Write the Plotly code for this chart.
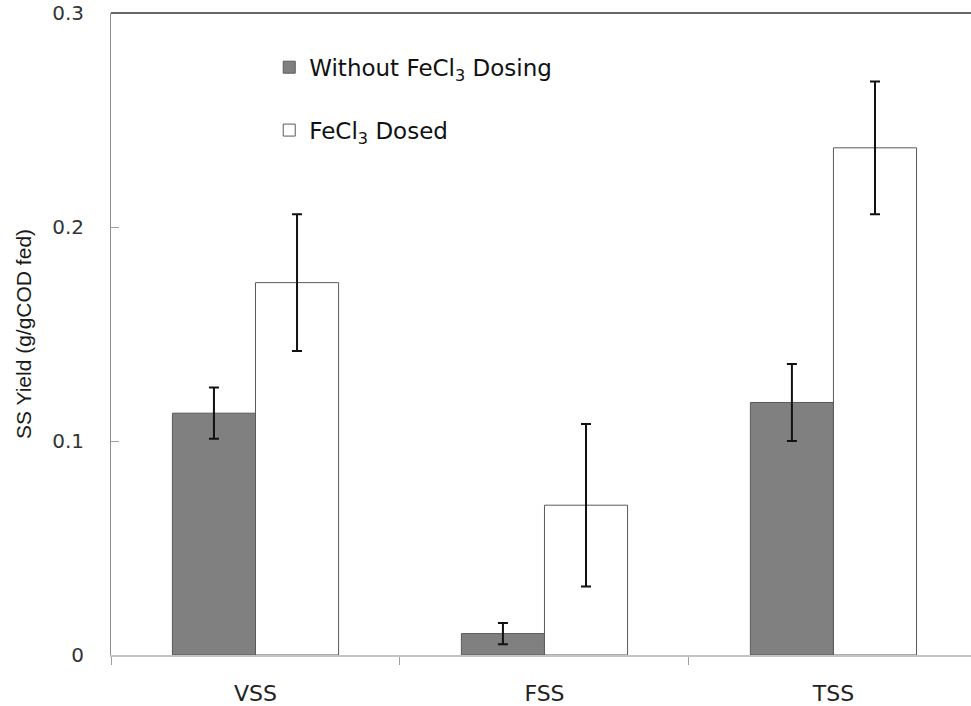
import plotly.graph_objects as go

# Suspended-solids yield per fraction, with and without ferric chloride dosing
categories = ["VSS", "FSS", "TSS"]
without_fecl3 = [0.113, 0.010, 0.118]
without_fecl3_err = [0.012, 0.005, 0.018]
fecl3_dosed = [0.174, 0.070, 0.237]
fecl3_dosed_err = [0.032, 0.038, 0.031]

y_ticks = [0, 0.1, 0.2, 0.3]
y_tick_text = ["0", "0.1", "0.2", "0.3"]

fig = go.Figure()

fig.add_trace(go.Bar(
    x=categories, y=without_fecl3,
    name="Without FeCl<sub>3</sub> Dosing",
    legendgroup="a",
    marker=dict(color="#808080", line=dict(color="#5a5a5a", width=1)),
    error_y=dict(type="data", array=without_fecl3_err, color="#111111",
                 thickness=2, width=5),
))
fig.add_trace(go.Bar(
    x=categories, y=fecl3_dosed,
    name="FeCl<sub>3</sub> Dosed",
    legendgroup="b",
    marker=dict(color="#ffffff", line=dict(color="#5a5a5a", width=1)),
    error_y=dict(type="data", array=fecl3_dosed_err, color="#111111",
                 thickness=2, width=5),
))

# Dark frame line along the top of the plotting area
fig.add_shape(type="line", xref="paper", yref="paper", x0=0, x1=1, y0=1, y1=1,
              line=dict(color="#333333", width=1.5))

fig.update_layout(
    width=971, height=706,
    margin=dict(l=111, r=0, t=13, b=51),
    paper_bgcolor="white", plot_bgcolor="white",
    barmode="group", bargap=0.425, bargroupgap=0,
    font=dict(family="DejaVu Sans", color="#222222"),
    showlegend=True,
    legend=dict(
        x=0.184, y=0.949, xanchor="left", yanchor="top",
        font=dict(size=23, color="#111111"),
        tracegroupgap=30, bgcolor="rgba(0,0,0,0)",
        traceorder="grouped",
    ),
    xaxis=dict(
        type="category",
        range=[-0.5, 2.476],
        tickson="boundaries",
        ticks="outside", ticklen=8, tickcolor="#a0a0a0",
        showline=True, linecolor="#c4c4c4", linewidth=2,
        showgrid=False, zeroline=False,
        tickfont=dict(size=22, color="#222222"),
        ticklabelstandoff=18,
    ),
    yaxis=dict(
        range=[0, 0.3],
        tickvals=y_ticks, ticktext=y_tick_text,
        ticks="inside", ticklen=8, tickcolor="#a0a0a0",
        showline=True, linecolor="#8c8c8c", linewidth=1,
        showgrid=False, zeroline=False,
        tickfont=dict(size=20, color="#333333"),
        ticklabelstandoff=22,
        title=dict(text="SS Yield (g/gCOD fed)",
                   font=dict(family="Liberation Sans", size=21,
                             color="#1a1a1a"),
                   standoff=14),
    ),
)

fig.write_html("out.html")
